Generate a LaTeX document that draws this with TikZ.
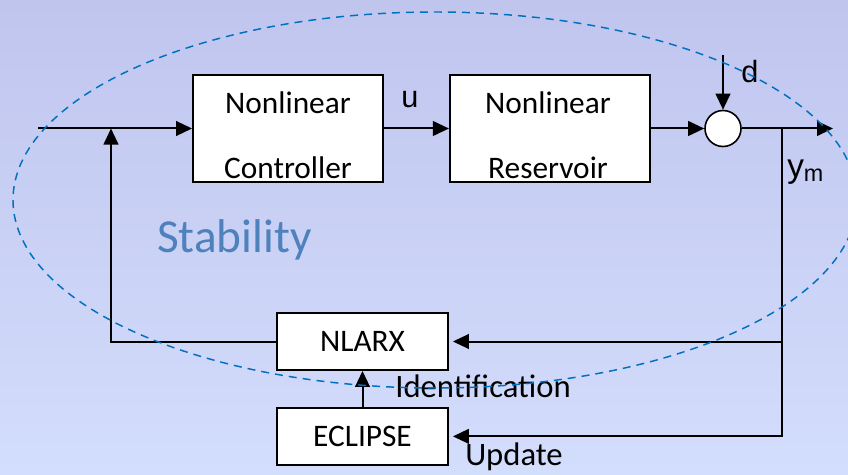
\documentclass[tikz,border=0pt]{standalone}
\usepackage{fontspec}
\setmainfont{Carlito}
\newfontfamily\arialfont{Liberation Sans}
\usetikzlibrary{arrows.meta,positioning}
\definecolor{bgtop}{RGB}{192,197,238}
\definecolor{bgbot}{RGB}{211,221,252}
\definecolor{stabblue}{RGB}{79,129,189}
\definecolor{ovalblue}{RGB}{0,112,192}
\tikzset{
  block/.style={draw, fill=white, line width=1.4pt, inner sep=0pt},
  sig/.style={line width=1.5pt, -{Triangle[length=12pt,width=11pt]}},
  txt/.style={font=\fontsize{23.5}{27}\selectfont, inner sep=0pt},
  sym/.style={font=\arialfont\fontsize{23}{27}\selectfont, inner sep=0pt},
}

\begin{document}
\begin{tikzpicture}[x=0.75pt,y=-0.75pt]
  \shade[top color=bgtop, bottom color=bgbot] (0,0) rectangle (848,474);
  \useasboundingbox (0,0) rectangle (848,474);

  \node[block, minimum width=142.5pt, minimum height=80.25pt] (ctrl) at (288,128.5) {};
  \node[block, minimum width=150pt, minimum height=80.25pt, right=48.75pt of ctrl] (res) {};
  \node[block, circle, minimum size=27pt, line width=1.2pt] (sum) at (723,128.5) {};
  \node[block, txt, minimum width=128.25pt, minimum height=42.75pt] (nlarx) at (362.5,341.5) {NLARX};
  \node[block, txt, minimum width=128.25pt, minimum height=42.75pt, below=27pt of nlarx] (eclipse) {ECLIPSE};

  \node[txt, anchor=base] (ctrl-a) at (288,114) {Nonlinear};
  \node[txt, anchor=base] (ctrl-b) at (288,178) {Controller};
  \node[txt, anchor=base] (res-a) at (548,114) {Nonlinear};
  \node[txt, anchor=base] (res-b) at (548,178) {Reservoir};

  \coordinate (in) at (38,128.5);
  \coordinate (j) at (111,128.5);
  \coordinate (dtop) at (723,55);
  \coordinate (out) at (833,128.5);
  \coordinate (br) at (782,128.5);

  \draw[sig] (in) -- (ctrl);
  \draw[sig] (ctrl) -- (res);
  \draw[sig] (res) -- (sum);
  \draw[sig] (dtop) -- (sum);
  \draw[sig] (sum) -- (out);
  \draw[sig] (nlarx) -| (j);
  \draw[sig, shorten >=3pt] (br) |- (eclipse);
  \draw[sig, shorten >=3pt] (br |- nlarx) -- (nlarx);
  \draw[sig] (eclipse) -- (nlarx);

  \node[sym] (ulab) at (410,100) {u};
  \node[sym] (dlab) at (750,72) {d};
  \node[sym, font=\arialfont\fontsize{25}{29}\selectfont, anchor=base west] (ylab) at (787,177) {y\textsubscript{m}};
  \node[font=\fontsize{35.5}{40}\selectfont, text=stabblue, anchor=base west, inner sep=0pt] (stab) at (157,252) {Stability};
  \node[txt, font=\fontsize{24.5}{28}\selectfont, anchor=base west] (ident) at (395,397) {Identification};
  \node[txt, font=\fontsize{24.5}{28}\selectfont, anchor=base west] (upd) at (465,465) {Update};

  \draw[ovalblue, line width=1.1pt, dash pattern=on 6pt off 4.5pt] (435,200) ellipse [x radius=316.5pt, y radius=141pt];
\end{tikzpicture}
\end{document}
